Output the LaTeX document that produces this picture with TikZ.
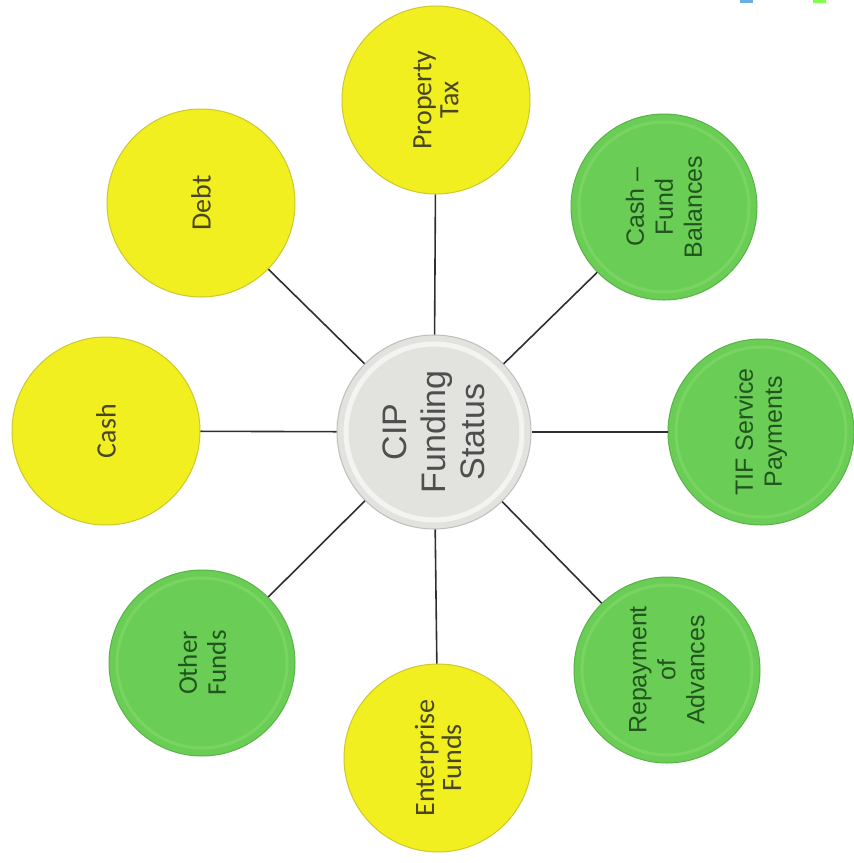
\documentclass[tikz,border=0pt]{standalone}
\usepackage{fontspec}
\setmainfont{Liberation Sans}
\newfontfamily\calib{Carlito}
\definecolor{yelfill}{RGB}{241,239,32}
\definecolor{yeledge}{RGB}{205,200,45}
\definecolor{yeltext}{RGB}{72,70,38}
\definecolor{grnfill}{RGB}{106,206,86}
\definecolor{grnedge}{RGB}{88,178,70}
\definecolor{grnrim}{RGB}{150,224,120}
\definecolor{grntext}{RGB}{34,84,30}
\definecolor{hubfill}{RGB}{226,226,222}
\definecolor{hubedge}{RGB}{190,190,186}
\definecolor{hubtext}{RGB}{78,78,78}
\definecolor{linkcol}{RGB}{45,48,50}
\begin{document}
\begin{tikzpicture}[x=1pt,y=-1pt,
  yel/.style={circle, minimum size=188pt, inner sep=0pt, fill=yelfill, draw=yeledge, line width=1pt,
    rotate=90, align=center, text=yeltext, font=\calib\fontsize{28}{27}\selectfont},
  grn/.style={circle, minimum size=186pt, inner sep=0pt, fill=grnfill, draw=grnedge, line width=1pt,
    rotate=90, align=center, text=grntext, font=\fontsize{25}{29}\selectfont,
    path picture={\draw[grnrim, opacity=.35, line width=3pt] (path picture bounding box.center) circle (85pt);}},
  hub/.style={circle, minimum size=194pt, inner sep=0pt, fill=hubfill, draw=hubedge, line width=1pt,
    rotate=90, align=center, text=hubtext, font=\fontsize{34}{39}\selectfont,
    path picture={\draw[white, opacity=.6, line width=5pt] (path picture bounding box.center) circle (88pt);}},
  link/.style={draw=linkcol, line width=1.6pt}
]
\useasboundingbox (0,0) rectangle (854,863);
\fill[white] (0,0) rectangle (854,863);

% edge fragments at top right
\fill[cyan!70!blue!60] (740,0) rectangle (753,2.5);
\fill[green!70!yellow!70] (813,0) rectangle (826,2.5);

\node[hub] (hub) at (434,432) {CIP\\Funding\\Status};

\node[yel] (prop) at (436,100) {Property\\Tax};
\node[grn] (cfb)  at (664,207) {Cash --\\Fund\\Balances};
\node[grn] (tif)  at (761,432) {TIF Service\\Payments};
\node[grn] (rep)  at (667,670) {Repayment\\of\\Advances};
\node[yel] (ent)  at (438,758) {Enterprise\\Funds};
\node[grn] (oth)  at (202,663) {\calib\fontsize{27}{27}\selectfont Other\\\calib\fontsize{27}{27}\selectfont Funds};
\node[yel] (cash) at (106,431) {Cash};
\node[yel] (debt) at (201,203) {Debt};

\draw[link] (hub) -- (prop);
\draw[link] (hub) -- (cfb);
\draw[link] (hub) -- (tif);
\draw[link] (hub) -- (rep);
\draw[link] (hub) -- (ent);
\draw[link] (hub) -- (oth);
\draw[link] (hub) -- (cash);
\draw[link] (hub) -- (debt);
\end{tikzpicture}
\end{document}
